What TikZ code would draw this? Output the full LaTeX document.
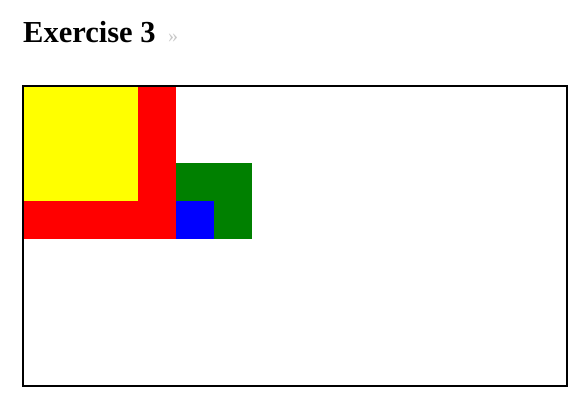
\documentclass[tikz,border=0pt]{standalone}
\usepackage{fontspec}
\setmainfont{Liberation Serif}
\definecolor{cyellow}{RGB}{255,255,0}
\definecolor{cred}{RGB}{255,0,0}
\definecolor{cgreen}{RGB}{0,128,0}
\definecolor{cblue}{RGB}{0,0,255}
\definecolor{cgray}{RGB}{200,200,200}
\begin{document}
\begin{tikzpicture}[x=1pt,y=-1pt,
  title/.style={anchor=base west,inner sep=0pt,font=\bfseries\fontsize{30.5}{32}\selectfont},
  guil/.style={anchor=base west,inner sep=0pt,text=cgray,font=\fontsize{20}{22}\selectfont}]
\useasboundingbox (0,0) rectangle (577,410);
\node[title] (t) at (23,42) {Exercise 3};
\node[guil] (g) at (168,42) {»};
\fill[cred] (23,86) rectangle (175.5,238.5);
\fill[cyellow] (23,86) rectangle (137.5,200.5);
\fill[cgreen] (175.5,162.5) rectangle (251.5,238.5);
\fill[cblue] (175.5,200.5) rectangle (213.5,238.5);
\draw[line width=2] (23,86) rectangle (566.5,386);
\end{tikzpicture}
\end{document}
